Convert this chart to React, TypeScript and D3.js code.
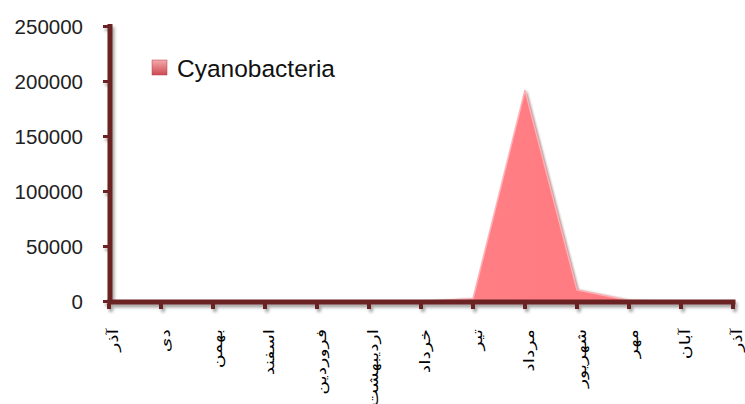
import React from 'react';
import * as d3 from 'd3';

const months = ['آذر', 'دی', 'بهمن', 'اسفند', 'فروردین', 'اردیبهشت', 'خرداد', 'تیر', 'مرداد', 'شهریور', 'مهر', 'آبان', 'آذر'];
const cyanobacteria = [0, 0, 0, 0, 0, 0, 0, 2500, 192000, 10500, 1000, 0, 0];
const yTicks = [0, 50000, 100000, 150000, 200000, 250000];
const seriesName = 'Cyanobacteria';

const W = 745;
const H = 404;
const axisColor = '#6b2323';

export default function App() {
  const idx = months.map((_, i) => i);

  const x = d3.scalePoint<number>()
    .domain(idx)
    .range([109, 733]);

  const y = d3.scaleLinear()
    .domain([0, 250000])
    .range([301.5, 26.5]);

  const area = d3.area<number>()
    .x((_, i) => x(i) as number)
    .y0(y(0))
    .y1((d) => y(d));

  const line = d3.line<number>()
    .x((_, i) => x(i) as number)
    .y((d) => y(d));

  const x1 = x(months.length - 1) as number;

  return (
    <svg width={W} height={H} style={{ position: 'absolute', left: 0, top: 0, background: '#fff' }}>
      <defs>
        <filter id="shadow" x="-20%" y="-20%" width="140%" height="160%">
          <feDropShadow dx="2" dy="3" stdDeviation="1.8" floodColor="#000" floodOpacity="0.35" />
        </filter>
        <filter id="areaShadow" x="-20%" y="-20%" width="140%" height="140%">
          <feDropShadow dx="1.5" dy="0" stdDeviation="0.8" floodColor="#5a1a1a" floodOpacity="0.6" />
        </filter>
        <linearGradient id="areaFill" x1="0" y1="0" x2="1" y2="0">
          <stop offset="0" stopColor="#ff8a90" />
          <stop offset="1" stopColor="#ff767d" />
        </linearGradient>
        <linearGradient id="legendFill" x1="0" y1="0" x2="0" y2="1">
          <stop offset="0" stopColor="#f6a9ad" />
          <stop offset="1" stopColor="#cc4a52" />
        </linearGradient>
      </defs>

      {/* series area */}
      <path d={area(cyanobacteria) as string} fill="url(#areaFill)" filter="url(#areaShadow)" />
      <path d={line(cyanobacteria) as string} fill="none" stroke="#ffb0b5" strokeWidth={1.5} />

      {/* axes */}
      <g filter="url(#shadow)">
        <rect x={107.5} y={24} width={5} height={280} fill={axisColor} />
        <rect x={107.5} y={299.5} width={x1 - 107.5 + 2.5} height={5} fill={axisColor} />
        {yTicks.map((t) => (
          <rect key={t} x={103} y={y(t) - 1.5} width={5} height={3} fill={axisColor} />
        ))}
        {idx.map((i) => (
          <rect key={i} x={(x(i) as number) - 2} y={304} width={4} height={5} fill={axisColor} />
        ))}
      </g>

      {/* y tick labels */}
      {yTicks.map((t) => (
        <text key={t} x={83} y={y(t)} dy="0.36em" textAnchor="end"
          fontFamily="'Liberation Sans', Arial, sans-serif" fontSize={20.5} fill="#222">
          {t}
        </text>
      ))}

      {/* x tick labels */}
      {months.map((m, i) => (
        <text key={i} transform={`translate(${(x(i) as number) + 9},329) rotate(-90) scale(1.35,1)`}
          textAnchor="end" fontFamily="'DejaVu Sans', sans-serif" fontSize={14} fill="#000">
          {m}
        </text>
      ))}

      {/* legend */}
      <rect x={152} y={60} width={15} height={15} fill="url(#legendFill)" stroke="#b84048" strokeWidth={0.5} />
      <text x={177} y={77} fontFamily="'Liberation Sans', Arial, sans-serif" fontSize={24.5} fill="#111">
        {seriesName}
      </text>
    </svg>
  );
}
